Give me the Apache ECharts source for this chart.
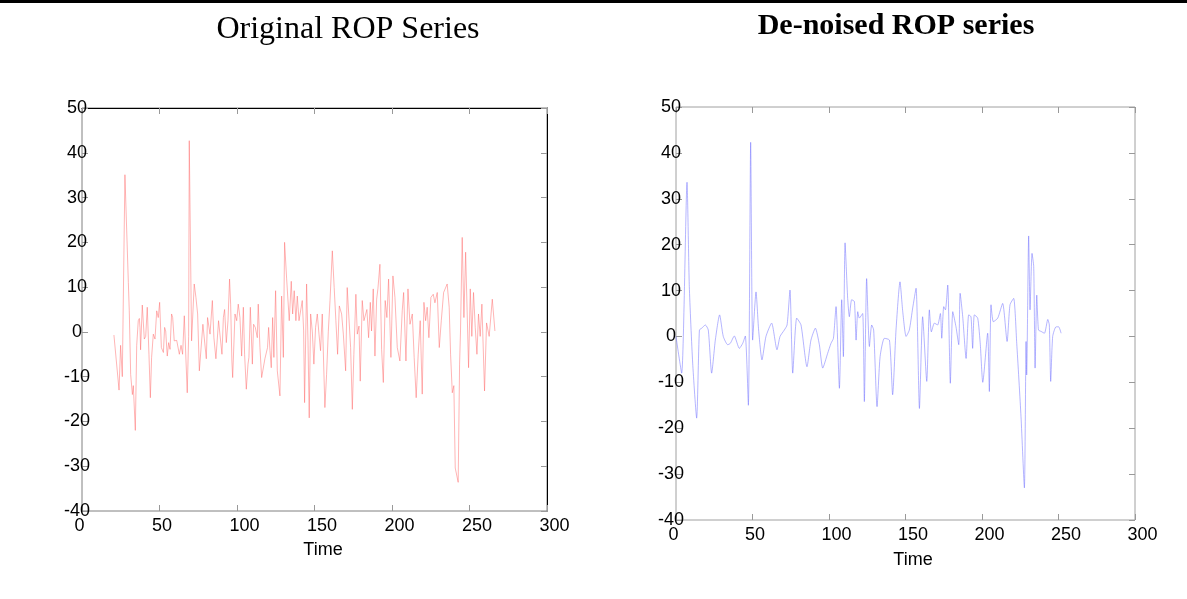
<!DOCTYPE html>
<html>
<head>
<meta charset="utf-8">
<script src="https://cdn.jsdelivr.net/npm/echarts@6/dist/echarts.min.js"></script>
<style>
  html, body { margin: 0; padding: 0; background: #fff; }
  #chart { width: 1187px; height: 599px; }
</style>
</head>
<body>
<div id="chart"></div>
<script>
// Original ROP series (time, value)
const origTime = [
  20.6, 23.9, 24.9, 26.0, 27.7, 29.9, 30.5, 31.4, 32.5, 33.1,
  34.4, 35.3, 36.3, 37.0, 37.4, 37.8, 38.9, 40.2, 41.1, 42.1,
  43.2, 44.1, 44.9, 46.0, 47.1, 48.2, 49.2, 50.1, 51.2, 52.5,
  53.3, 54.0, 55.0, 55.9, 56.8, 57.8, 58.5, 59.5, 61.1, 62.8,
  63.9, 64.9, 66.0, 67.1, 67.9, 68.8, 69.2, 70.7, 72.4, 73.5,
  74.6, 75.7, 76.7, 78.0, 79.1, 80.2, 81.0, 82.6, 84.1, 85.1,
  86.4, 87.3, 88.1, 90.3, 91.2, 92.0, 93.1, 94.2, 95.2, 95.9,
  96.7, 97.2, 98.7, 99.8, 100.8, 101.9, 103.0, 104.1, 104.9, 106.0,
  107.1, 107.7, 108.6, 109.9, 110.7, 111.8, 113.1, 113.7, 114.8, 115.9,
  116.7, 118.0, 119.7, 120.4, 121.3, 122.1, 123.0, 123.8, 124.9, 126.0,
  127.7, 128.8, 129.9, 130.7, 132.0, 133.7, 135.0, 135.9, 136.9, 138.0,
  138.9, 140.0, 142.1, 143.0, 143.6, 144.9, 145.8, 146.6, 147.5, 148.6,
  149.6, 150.7, 151.8, 152.9, 153.9, 155.0, 156.7, 157.8, 158.9, 160.0,
  161.5, 162.7, 163.8, 164.9, 166.0, 167.5, 168.6, 170.1, 171.1, 172.2,
  173.3, 174.4, 175.4, 176.7, 177.6, 178.7, 179.5, 180.8, 181.9, 183.0,
  183.8, 184.9, 186.0, 186.8, 187.9, 189.0, 190.1, 190.9, 192.2, 193.3,
  194.4, 195.6, 196.7, 197.8, 199.3, 200.6, 201.9, 203.4, 205.1, 206.6,
  207.5, 209.0, 210.3, 211.6, 213.1, 214.3, 215.6, 216.9, 218.2, 219.5,
  220.6, 221.7, 222.7, 223.8, 225.1, 226.6, 227.7, 229.2, 230.5, 231.8,
  233.3, 235.6, 236.9, 237.8, 238.9, 239.9, 240.8, 241.9, 242.7, 243.6,
  244.2, 245.3, 246.4, 247.5, 248.3, 249.4, 250.5, 251.5, 252.6, 253.7,
  254.8, 255.8, 256.9, 258.0, 259.7, 261.0, 262.7, 264.7, 266.4
];
const origRop = [
  -0.7, -13, -3, -10, 35.1, 11, 4.7, -9.5, -14, -12,
  -22, -3, 2.5, 3, 1, -4, 6, -1.6, -1, 5.5,
  -5, -14.7, -5.7, -0.5, -1.6, 4.7, 3.2, 6.6, -3.5, -4.6,
  1, 0.2, -5.4, -2.4, -3.9, 4, 3.2, -2, -1.9, -5,
  -3, -5, 3.6, -6.5, -13.6, -1, 42.7, -2, 10.7, 7.7,
  4, -8.7, -8.7, 1.7, 2, -6, 3.2, -0.5, 7, -1.3,
  -6, -6, 2.5, -5, 3.2, 5, -2.4, 2.5, 11.8, 6.2,
  -6.5, -10.2, 4, 2.5, 6.2, 3.2, -5.4, 5.5, -5, -12.8,
  -7.2, -5.7, 5.5, -7.2, 1.7, 1, -1.3, 6.2, -3.5, -10.2,
  -10.2, -6, -3.5, 1, -4.2, -8, 3.2, -5.7, 9.2, -8.7,
  -14.3, 8, -5.7, 20, 12, 2.5, 11.3, 4, 9.2, 2.5,
  8, 2.5, 7, 0.2, -15.8, 10.7, -2, -19.2, 4, 0,
  -7.2, 1, 4, -0.5, -4.2, 4, -16.9, -9.5, 0, 7,
  18.1, 9.9, 2.5, -5, 5.8, 4, -0.5, -8.7, 9.9, 10.3,
  -3.5, -17.3, -5, 8.4, -0.5, 1.3, -11, 7, 2.5, 2.5,
  5, -1.3, 6.6, 0.2, 9.6, -5.4, 7.3, 9.6, 15.1, -3.9,
  -11.3, 7, 3.2, 11.8, -5.7, 12.5, 7.7, -3.5, -6.5, 4.7,
  8.8, -6.5, 9.6, 1.7, 4, -5.7, -14.7, -5, 2.5, -13.9,
  6.6, 2.5, 5.5, -1.3, 7.7, 8.4, 6.5, 8.8, -3.5, 2.5,
  8.8, 10.7, 5.5, -5, -13.6, -12, -30.4, -30, -33.6, -7.2,
  0.2, 21.1, 3.2, 17.8, 17.5, -8, 9.6, -1, 8.8, 1,
  -5, 4, -1, 6.2, -13.2, 2, -1, 7.3, 0.2
];

// De-noised ROP series
const denoisedTime = [
  0, 3.7, 7.2, 8.7, 10.9, 13.5, 15.3, 16.8, 19.2, 21.1,
  23.3, 25.7, 28.5, 30.9, 33.8, 35.5, 38.1, 41.4, 43.6, 45.3,
  47.3, 48.8, 50.1, 52.3, 54.0, 56.2, 58.8, 62.5, 66.0, 68.0,
  70.8, 72.6, 74.5, 76.3, 78.9, 81.7, 85.6, 88.2, 91.1, 93.7,
  95.9, 99.1, 101.3, 102.9, 104.6, 106.8, 108.3, 109.4, 110.5, 112.2,
  113.3, 114.8, 116.6, 117.7, 118.8, 119.8, 122.0, 123.1, 124.6, 126.4,
  127.9, 129.2, 131.4, 133.4, 136.2, 139.5, 141.6, 143.8, 146.4, 148.2,
  150.4, 152.5, 154.7, 156.9, 159.1, 161.2, 163.9, 165.6, 166.9, 168.9,
  171.0, 172.8, 173.7, 175.0, 176.1, 177.6, 179.3, 180.9, 183.0, 184.8,
  185.7, 187.4, 189.6, 191.3, 192.8, 193.9, 195.0, 197.2, 198.9, 200.5,
  203.7, 204.8, 205.9, 207.4, 210.3, 213.5, 216.4, 218.3, 220.7, 222.7,
  225.5, 227.7, 228.8, 229.2, 230.5, 231.4, 232.7, 233.8, 234.7, 235.8,
  236.9, 238.6, 240.8, 243.0, 244.0, 244.9, 246.2, 248.4, 250.1, 251.7
];
const denoisedRop = [
  0, -8, 33.6, 10.9, -5.8, -17.8, 1.4, 1.8, 2.5, 1.4,
  -8, -0.8, 4.7, 0, -1.8, -1.5, 0.1, -2.6, -1.5, 0.1,
  -15, 42.3, -0.8, 9.7, 1.4, -5.1, 0, 2.9, -2.9, 0,
  1.4, 2.5, 10.1, -8, 4, 2.5, -6.6, -0.8, 1.8, -1.8,
  -6.9, -3.7, -1.5, -0.4, 6.5, -11.3, 8, -4.4, 20.4, 8.3,
  4.3, 8, 7.6, -0.8, 5.4, 4, 5, -14.2, 12.6, -2.2,
  2.5, 1.4, -15.3, -4.4, -0.4, -0.8, -12.7, 1.4, 11.9, 5.4,
  0, 1.4, 6.2, 10.5, -15.7, 4.3, -9.8, 5.8, 1, 2.9,
  2.5, 5, -0.4, 6.5, 5.8, 11.2, -10.2, 5.4, 2.1, -1.8,
  9.4, 4.3, -4.8, 4.7, 4.3, -2.6, 4.7, 4, -1.8, -10,
  0.7, -12, 6.9, 3.2, 4, 7.2, -1.1, 6.9, 8.3, -1.5,
  -17.5, -33, -1.1, -8.4, 21.9, 5.8, 18.1, 15.2, -6.9, 9,
  1.4, 1.1, 0.7, 3.7, 2.5, -9.8, 0, 2.1, 2.1, 0.7
];

const xMin = 0, xMax = 300, xStep = 50;
const yMin = -40, yMax = 50, yStep = 10;

const zip = (xs, ys) => xs.map((x, i) => [x, ys[i]]);

const axisFont = { fontFamily: "Liberation Sans, Arial, sans-serif", fontSize: 18, color: "#000" };

// the plot frame comes from the grid border; black axis lines only on the left panel's top/right
function frameLine(color) {
  return color ? { show: true, onZero: false, lineStyle: { color: color, width: 1 } }
               : { show: false, onZero: false };
}
const innerTick = { show: true, inside: true, length: 6, lineStyle: { color: "#999" } };

function bottomAxis(grid, namePad, nameGap) {
  return {
    gridIndex: grid, type: "value", position: "bottom",
    min: xMin, max: xMax, interval: xStep,
    axisLine: frameLine(null), axisTick: innerTick,
    axisLabel: Object.assign({ margin: 6, align: "left", padding: [0, 0, 0, -7.5] }, axisFont),
    splitLine: { show: false },
    name: "Time", nameLocation: "middle", nameGap: nameGap,
    nameTextStyle: Object.assign({ padding: [0, 0, 0, namePad] }, axisFont)
  };
}
function topAxis(grid, lineColor) {
  return {
    gridIndex: grid, type: "value", position: "top",
    min: xMin, max: xMax, interval: xStep,
    axisLine: frameLine(lineColor), axisTick: innerTick,
    axisLabel: { show: false }, splitLine: { show: false }
  };
}
function leftAxis(grid) {
  return {
    gridIndex: grid, type: "value", position: "left",
    min: yMin, max: yMax, interval: yStep,
    axisLine: frameLine(null), axisTick: innerTick,
    axisLabel: Object.assign({ margin: 5, align: "center" }, axisFont),
    splitLine: { show: false }
  };
}
function rightAxis(grid, lineColor) {
  return {
    gridIndex: grid, type: "value", position: "right",
    min: yMin, max: yMax, interval: yStep,
    axisLine: frameLine(lineColor), axisTick: innerTick,
    axisLabel: { show: false }, splitLine: { show: false }
  };
}

const chart = echarts.init(document.getElementById("chart"));
chart.setOption({
  animation: false,
  backgroundColor: "#fff",
  title: [
    {
      text: "Original ROP Series", left: 343, top: 9, textAlign: "center",
      textStyle: { fontFamily: "Liberation Serif, Times New Roman, serif", fontSize: 32, fontWeight: "normal", color: "#000" }
    },
    {
      text: "De-noised ROP series", left: 891, top: 6, textAlign: "center",
      textStyle: { fontFamily: "Liberation Serif, Times New Roman, serif", fontSize: 30, fontWeight: "bold", color: "#000" }
    }
  ],
  graphic: [
    { type: "rect", left: 0, top: 0, shape: { width: 1187, height: 3 }, style: { fill: "#000" } }
  ],
  grid: [
    { left: 82, top: 108, width: 465, height: 403, show: true, borderColor: "#808080", borderWidth: 1 },
    { left: 676, top: 107, width: 459, height: 413, show: true, borderColor: "#a0a0a0", borderWidth: 1 }
  ],
  xAxis: [
    bottomAxis(0, 17, 30),
    topAxis(0, "#000"),
    bottomAxis(1, 15, 31),
    topAxis(1, null)
  ],
  yAxis: [
    leftAxis(0),
    rightAxis(0, "#000"),
    leftAxis(1),
    rightAxis(1, null)
  ],
  series: [
    {
      name: "Original", type: "line", xAxisIndex: 0, yAxisIndex: 0,
      data: zip(origTime, origRop), showSymbol: false,
      lineStyle: { color: "#ff6a6a", width: 0.5 }
    },
    {
      name: "De-noised", type: "line", xAxisIndex: 2, yAxisIndex: 2,
      data: zip(denoisedTime, denoisedRop), showSymbol: false, smooth: 0.2,
      lineStyle: { color: "#6a6aff", width: 0.5 }
    }
  ]
});
</script>
</body>
</html>
